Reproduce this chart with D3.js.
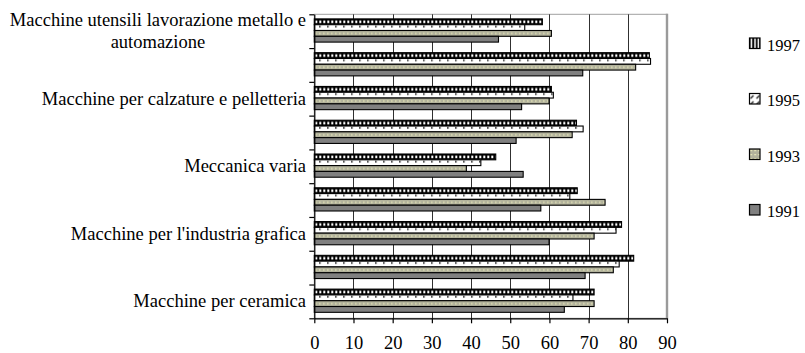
<!DOCTYPE html>
<html>
<head>
<meta charset="utf-8">
<script src="https://cdn.jsdelivr.net/npm/d3@7"></script>
<style>
  html, body { margin: 0; padding: 0; background: #fff; }
  svg { display: block; }
  svg text { font-family: "Liberation Serif", "Tinos", "Times New Roman", "Nimbus Roman", "DejaVu Serif", "Noto Serif", serif; fill: #000; }
</style>
</head>
<body>
<svg id="chart" width="805" height="353"></svg>
<script>
// Categories, top to bottom (only every other one carries a visible label)
const categories = [
  "Macchine utensili lavorazione metallo e automazione",
  "",
  "Macchine per calzature e pelletteria",
  "",
  "Meccanica varia",
  "",
  "Macchine per l'industria grafica",
  "",
  "Macchine per ceramica"
];
const years = ["1997", "1995", "1993", "1991"];
const v1997 = [58.2, 85.5, 60.5, 66.9, 46.3, 67.1, 78.4, 81.5, 71.4];
const v1995 = [53.7, 85.8, 61.0, 68.6, 42.5, 65.2, 77.0, 77.8, 66.0];
const v1993 = [60.5, 82.0, 59.9, 65.8, 38.8, 74.2, 71.4, 76.3, 71.4];
const v1991 = [47.0, 68.5, 52.9, 51.5, 53.3, 57.8, 59.9, 69.1, 63.8];
const xTicks = [0, 10, 20, 30, 40, 50, 60, 70, 80, 90];

const seriesValues = { "1997": v1997, "1995": v1995, "1993": v1993, "1991": v1991 };

const svg = d3.select("#chart");
const plot = { left: 314.3, right: 667, top: 14.3, bottom: 318.3 };

const x = d3.scaleLinear().domain([0, 90]).range([plot.left, plot.right]);
const y = d3.scaleBand().domain(d3.range(categories.length)).range([plot.top, plot.bottom]).padding(0);
const ySeries = d3.scaleBand().domain(years).range([4.6, 27.8]).padding(0);

// Fill patterns for the four series
const defs = svg.append("defs");

const p97 = defs.append("pattern").attr("id", "pat1997")
  .attr("patternUnits", "userSpaceOnUse").attr("width", 4).attr("height", 40);
p97.append("rect").attr("width", 4).attr("height", 40).attr("fill", "#000");
p97.append("rect").attr("x", 1).attr("y", 1.6).attr("width", 2).attr("height", 2.6).attr("fill", "#fff");

const p97L = defs.append("pattern").attr("id", "pat1997L")
  .attr("patternUnits", "userSpaceOnUse").attr("width", 3.5).attr("height", 40);
p97L.append("rect").attr("width", 3.5).attr("height", 40).attr("fill", "#000");
p97L.append("rect").attr("x", 1.2).attr("y", 0).attr("width", 1.6).attr("height", 40).attr("fill", "#fff");

const p95 = defs.append("pattern").attr("id", "pat1995")
  .attr("patternUnits", "userSpaceOnUse").attr("width", 8).attr("height", 40);
p95.append("rect").attr("width", 8).attr("height", 40).attr("fill", "#fff");
p95.append("rect").attr("x", 5).attr("y", 0.8).attr("width", 1.2).attr("height", 2).attr("fill", "#000");

const p95L = defs.append("pattern").attr("id", "pat1995L")
  .attr("patternUnits", "userSpaceOnUse").attr("width", 6).attr("height", 6);
p95L.append("rect").attr("width", 6).attr("height", 6).attr("fill", "#fff");
p95L.append("path").attr("d", "M1,5 L4,2").attr("stroke", "#000").attr("stroke-width", 1.1);

const p93 = defs.append("pattern").attr("id", "pat1993")
  .attr("patternUnits", "userSpaceOnUse").attr("width", 4).attr("height", 40);
p93.append("rect").attr("width", 4).attr("height", 40).attr("fill", "#b2b29c");
p93.append("rect").attr("x", 1).attr("y", 2.4).attr("width", 1.2).attr("height", 1.2).attr("fill", "#fbfbc4");

const p93L = defs.append("pattern").attr("id", "pat1993L")
  .attr("patternUnits", "userSpaceOnUse").attr("width", 4).attr("height", 4);
p93L.append("rect").attr("width", 4).attr("height", 4).attr("fill", "#b2b29c");
p93L.append("rect").attr("x", 1).attr("y", 1).attr("width", 1.3).attr("height", 1.3).attr("fill", "#fbfbc4");

const fills = { "1997": "url(#pat1997)", "1995": "url(#pat1995)", "1993": "url(#pat1993)", "1991": "#808080" };
const legendFills = { "1997": "url(#pat1997L)", "1995": "url(#pat1995L)", "1993": "url(#pat1993L)", "1991": "#808080" };

// Plot area frame
svg.append("rect")
  .attr("x", plot.left).attr("y", plot.top)
  .attr("width", plot.right - plot.left).attr("height", plot.bottom - plot.top)
  .attr("fill", "none").attr("stroke", "#a0a0a0").attr("stroke-width", 1);
svg.append("line")
  .attr("x1", plot.right).attr("x2", plot.right)
  .attr("y1", plot.top - 0.5).attr("y2", plot.bottom)
  .attr("stroke", "#9a9a9a").attr("stroke-width", 2.4);

// Vertical gridlines
svg.append("g").selectAll("line")
  .data(xTicks.filter(t => t > 0 && t < 90))
  .join("line")
  .attr("x1", d => Math.round(x(d)) + 0.5).attr("x2", d => Math.round(x(d)) + 0.5)
  .attr("y1", plot.top).attr("y2", plot.bottom)
  .attr("stroke", "#303030").attr("stroke-width", 1);

// Bars
const groups = svg.append("g").selectAll("g")
  .data(categories.map((c, i) => i))
  .join("g");

groups.each(function (ci) {
  const g = d3.select(this);
  years.forEach(yr => {
    const v = seriesValues[yr][ci];
    g.append("g")
      .attr("transform", `translate(${x(0)},${y(ci) + ySeries(yr)})`)
      .append("rect")
      .attr("x", 0).attr("y", 0)
      .attr("width", x(v) - x(0))
      .attr("height", ySeries.bandwidth())
      .attr("fill", fills[yr])
      .attr("stroke", "#000")
      .attr("stroke-width", 1.1);
  });
});

// Size the serif text so that its widths suit the layout whichever serif face is found
const probe = svg.append("text").style("font-size", "18.4px").text("Macchine per ceramica");
const fitK = Math.min(1.05, Math.max(0.8, 172.7 / probe.node().getComputedTextLength()));
probe.remove();
const labelSize = 18.4 * fitK;

// Bottom axis
const xAxis = d3.axisBottom(x).tickValues(xTicks).tickSize(5).tickSizeOuter(0).tickPadding(12.5);
const gx = svg.append("g").attr("transform", `translate(0,${plot.bottom})`).call(xAxis);
gx.attr("font-family", null);
gx.select(".domain").attr("stroke", "#000").attr("stroke-width", 1.2);
gx.selectAll(".tick line").attr("stroke", "#000").attr("stroke-width", 1.2);
gx.selectAll("text").style("font-size", labelSize + "px").attr("fill", "#000");

// Left axis: ticks sit on category boundaries
const yEdge = d3.scaleLinear().domain([0, categories.length]).range([plot.bottom, plot.top]);
const yAxis = d3.axisLeft(yEdge).tickValues(d3.range(categories.length + 1)).tickFormat("").tickSize(5).tickSizeOuter(0);
const gy = svg.append("g").attr("transform", `translate(${plot.left},0)`).call(yAxis);
gy.select(".domain").attr("stroke", "#000").attr("stroke-width", 1.2);
gy.selectAll(".tick line").attr("stroke", "#000").attr("stroke-width", 1.2);

// Category labels, wrapped and centred like a text block right-aligned to the axis
const labelRight = 306;
const lineH = 22;
const maxW = 300 * fitK;
const labels = svg.append("g").style("font-size", labelSize + "px");
categories.forEach((c, i) => {
  if (!c) return;
  const t = labels.append("text").attr("text-anchor", "middle");
  const words = c.split(" ");
  const lines = [];
  let cur = [];
  const m = labels.append("text");
  words.forEach(w => {
    m.text(cur.concat(w).join(" "));
    if (m.node().getComputedTextLength() > maxW && cur.length) {
      lines.push(cur.join(" "));
      cur = [w];
    } else {
      cur.push(w);
    }
  });
  lines.push(cur.join(" "));
  let blockW = 0;
  lines.forEach(l => { m.text(l); blockW = Math.max(blockW, m.node().getComputedTextLength()); });
  m.remove();
  const cx = labelRight - blockW / 2;
  const cy = y(i) + y.bandwidth() / 2;
  lines.forEach((l, k) => {
    t.append("tspan")
      .attr("x", cx)
      .attr("y", cy + (k - (lines.length - 1) / 2) * lineH + 6)
      .text(l);
  });
});

// Legend
const legendBase = [50.5, 106, 161.5, 217];
const legend = svg.append("g");
years.forEach((yr, i) => {
  const g = legend.append("g").attr("transform", `translate(749.5,${legendBase[i] - 12.5})`);
  g.append("rect").attr("width", 10.5).attr("height", 10.5)
    .attr("fill", legendFills[yr]).attr("stroke", "#000").attr("stroke-width", 1.2);
  g.append("text").attr("x", 17.5).attr("y", 12.5)
    .style("font-size", (16.4 * fitK) + "px").text(yr);
});
</script>
</body>
</html>
